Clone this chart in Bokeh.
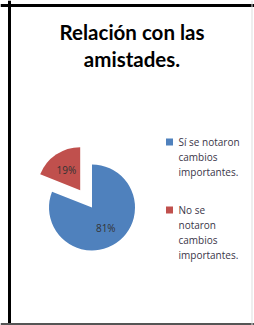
import numpy as np
from bokeh.plotting import figure
from bokeh.models import ColumnDataSource, Range1d, Span
from bokeh.core.properties import value
from bokeh.embed import file_html
from bokeh.resources import INLINE

# ---- data ----
title_lines = ["Relación con las", "amistades."]
categories = ["Sí se notaron cambios importantes.", "No se notaron cambios importantes."]
legend_lines = [["Sí se notaron", "cambios", "importantes."],
                ["No se", "notaron", "cambios", "importantes."]]
values = [81, 19]
colors = ["#4F81BD", "#C0504D"]
explode = [0, 21]

W, H = 254, 325
p = figure(width=W, height=H, x_range=Range1d(0, W), y_range=Range1d(0, H),
           output_backend="svg", toolbar_location=None, min_border=0)
p.axis.visible = False
p.grid.visible = False
p.outline_line_color = None
p.background_fill_color = "white"
p.border_fill_color = "white"

# frame lines (decoration)
p.add_layout(Span(location=9, dimension="height", line_color="black", line_width=3))
p.add_layout(Span(location=320, dimension="width", line_color="black", line_width=3))
p.add_layout(Span(location=1.5, dimension="width", line_color="#555555", line_width=2))
p.add_layout(Span(location=251.5, dimension="height", line_color="#dddddd", line_width=1))

# title
tsrc = ColumnDataSource(dict(x=[131.5] * len(title_lines),
                             y=[294 - 27 * i for i in range(len(title_lines))],
                             t=title_lines))
p.text(x="x", y="y", text="t", source=tsrc, text_align="center", text_baseline="middle",
       text_font=value("Lato"), text_font_style="bold", text_font_size="20.5px", text_color="#000000")

# pie
cx, cy, r = 91.5, 118, 43
fr = np.array(values, dtype=float) / sum(values)
cum = np.cumsum(fr)
starts = np.pi / 2 - 2 * np.pi * np.concatenate([[0.0], cum[:-1]])
ends = np.pi / 2 - 2 * np.pi * cum
mids = (starts + ends) / 2
ex = np.array(explode, dtype=float)
xs = cx + ex * np.cos(mids)
ys = cy + ex * np.sin(mids)
src = ColumnDataSource(dict(x=xs, y=ys, start=starts, end=ends, color=colors,
                            label=[f"{v}%" for v in values],
                            lx=xs + 0.57 * r * np.cos(mids), ly=ys + 0.57 * r * np.sin(mids)))
p.wedge(x="x", y="y", radius=r, start_angle="start", end_angle="end", direction="clock",
        fill_color="color", line_color=None, source=src)
p.text(x="lx", y="ly", text="label", source=src, text_align="center", text_baseline="middle",
       text_font=value("Open Sans"), text_font_size="10px", text_color="#333333")

# legend
leg_top = [183.5, 115.5]
sq = ColumnDataSource(dict(x=[169] * len(categories), y=leg_top, color=colors))
p.scatter(x="x", y="y", marker="square", size=7, fill_color="color", line_color=None, source=sq)
lx, ly, lt = [], [], []
for top, lines in zip(leg_top, legend_lines):
    for i, ln in enumerate(lines):
        lx.append(178)
        ly.append(top - 15 * i)
        lt.append(ln)
p.text(x="x", y="y", text="t", source=ColumnDataSource(dict(x=lx, y=ly, t=lt)),
       text_align="left", text_baseline="middle",
       text_font=value("Open Sans"), text_font_size="10px", text_color="#3a3548")

open("out.html", "w").write(file_html(p, INLINE))
